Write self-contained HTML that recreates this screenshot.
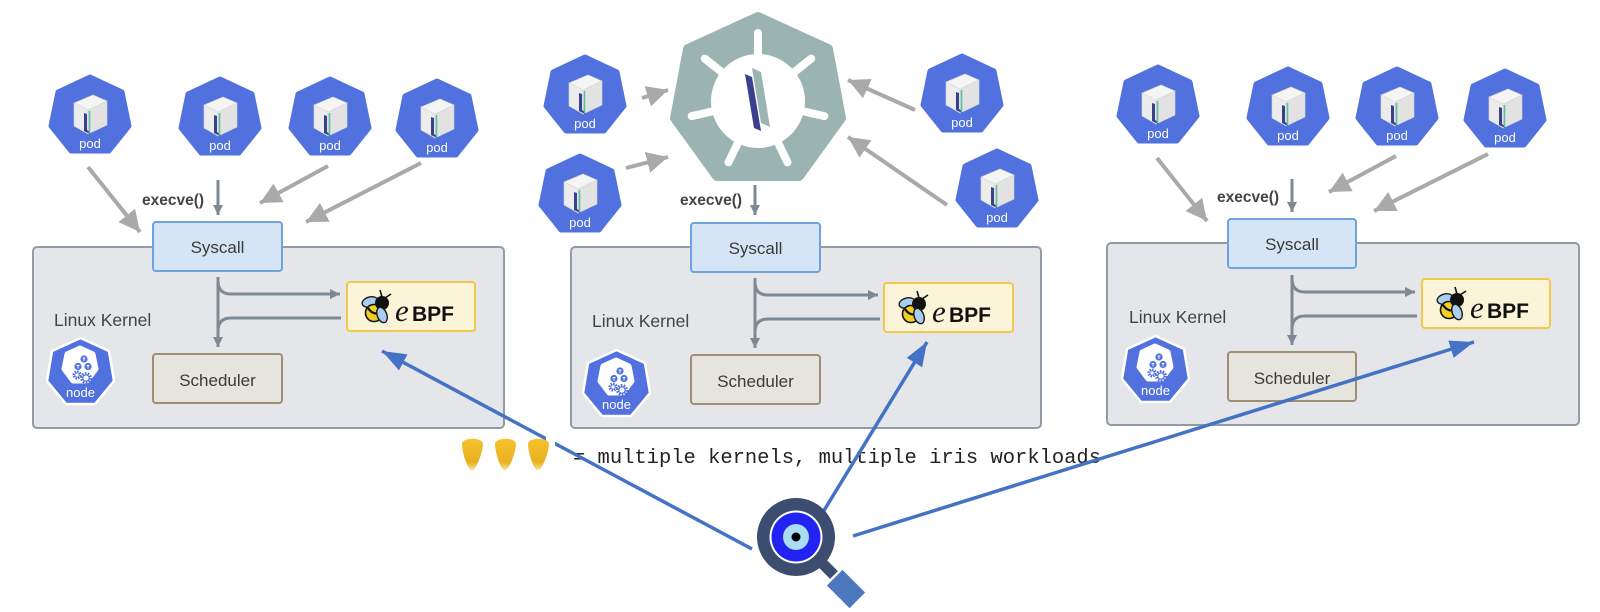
<!DOCTYPE html>
<html>
<head>
<meta charset="utf-8">
<style>
  html,body{margin:0;padding:0;background:#ffffff;}
  svg{display:block;}
  text{font-family:"Liberation Sans","DejaVu Sans",sans-serif;}
</style>
</head>
<body>
<svg width="1600" height="612" viewBox="0 0 1600 612" xmlns="http://www.w3.org/2000/svg">
<defs>
  <marker id="ga" viewBox="0 0 10 10" refX="10" refY="5" markerWidth="5.3" markerHeight="5.3" orient="auto" markerUnits="strokeWidth">
    <path d="M0,0 L10,5 L0,10 z" fill="#a9a9a9"/>
  </marker>
  <marker id="sa" viewBox="0 0 10 10" refX="10" refY="5" markerWidth="3.4" markerHeight="3.4" orient="auto" markerUnits="strokeWidth">
    <path d="M0,0 L10,5 L0,10 z" fill="#7d8995"/>
  </marker>
  <marker id="ba" viewBox="0 0 12 9" refX="12" refY="4.5" markerWidth="6.9" markerHeight="5.2" orient="auto" markerUnits="strokeWidth">
    <path d="M0,0 L12,4.5 L0,9 z" fill="#4472c4"/>
  </marker>
  <linearGradient id="corn" x1="0" y1="0" x2="0" y2="1">
    <stop offset="0" stop-color="#f6c32e"/>
    <stop offset="0.75" stop-color="#e9b020"/>
    <stop offset="1" stop-color="#f8e7a0"/>
  </linearGradient>
  <symbol id="pod" viewBox="0 0 84 82" width="84" height="82">
    <polygon points="42,4 74,19 81,53 61,78 23,78 3,53 10,19" fill="#5171de" stroke="#5171de" stroke-width="5" stroke-linejoin="round"/>
    <polygon points="26,30 45,22 59,28 40,37" fill="#f5f5f5" stroke="#d6d6d6" stroke-width="0.6"/>
    <polygon points="26,30 40,37 40,61 26,53" fill="#ececec" stroke="#d6d6d6" stroke-width="0.6"/>
    <polygon points="40,37 59,28 59,52 40,61" fill="#e2e2e2" stroke="#d6d6d6" stroke-width="0.6"/>
    <polygon points="36,40 39,41 39,57 42,59 42,61 36,58" fill="#3a3f8e"/>
    <line x1="41.5" y1="38" x2="41.5" y2="60" stroke="#5dbf9e" stroke-width="1.6"/>
  </symbol>
  <symbol id="node" viewBox="0 0 71 72" width="71" height="72">
    <polygon points="35.5,3 64,16 69,46 50,69 21,69 2,46 7,16" fill="#5171de" stroke="#ffffff" stroke-width="2.5" stroke-linejoin="round"/>
    <polygon points="35,13 48,19 51,34 42,46 28,46 19,34 22,19" fill="#ffffff" stroke="#ffffff" stroke-width="5" stroke-linejoin="round"/>
    <circle cx="39" cy="24" r="3.6" fill="#5171de"/>
    <circle cx="33" cy="31.5" r="3.6" fill="#5171de"/>
    <circle cx="43" cy="31.5" r="3.6" fill="#5171de"/>
    <path d="M37.6,23 h2.8 M39,23 v3 M31.6,30.5 h2.8 M33,30.5 v3 M41.6,30.5 h2.8 M43,30.5 v3" stroke="#fff" stroke-width="0.9"/>
    <circle cx="32" cy="40" r="3.3" fill="none" stroke="#5171de" stroke-width="2.6" stroke-dasharray="1.4,1.2"/>
    <circle cx="32" cy="40" r="2.2" fill="none" stroke="#5171de" stroke-width="1"/>
    <circle cx="41" cy="43" r="4.6" fill="none" stroke="#5171de" stroke-width="2.8" stroke-dasharray="1.6,1.3"/>
    <circle cx="41" cy="43" r="3.2" fill="none" stroke="#5171de" stroke-width="1.2"/>
  </symbol>
  <symbol id="bee" viewBox="0 0 32 36" width="32" height="36">
    <line x1="21" y1="8" x2="19" y2="1" stroke="#111" stroke-width="1.6"/>
    <line x1="24" y1="9" x2="30" y2="5" stroke="#111" stroke-width="1.6"/>
    <ellipse cx="9" cy="13" rx="8" ry="5" transform="rotate(-15 9 13)" fill="#a9cff0" stroke="#1a1a1a" stroke-width="1.4"/>
    <circle cx="13" cy="24" r="8.5" fill="#f3cf22" stroke="#111" stroke-width="1.6"/>
    <path d="M7,19 Q13,28 21,22" stroke="#111" stroke-width="2.2" fill="none"/>
    <circle cx="21" cy="14" r="7" fill="#111"/>
    <ellipse cx="21" cy="26" rx="4.8" ry="8" transform="rotate(-20 21 26)" fill="#a9cff0" stroke="#1a1a1a" stroke-width="1.4"/>
  </symbol>
</defs>

<!-- ============ PANELS ============ -->
<rect x="33" y="247" width="471" height="181" rx="4" fill="#e4e6ea" stroke="#939ca6" stroke-width="2"/>
<rect x="571" y="247" width="470" height="181" rx="4" fill="#e4e6ea" stroke="#939ca6" stroke-width="2"/>
<rect x="1107" y="243" width="472" height="182" rx="4" fill="#e4e6ea" stroke="#939ca6" stroke-width="2"/>

<!-- Panel 1 boxes -->
<rect x="153" y="222" width="129" height="49" rx="3" fill="#d5e5f6" stroke="#6fa3e0" stroke-width="2"/>
<text x="217.5" y="253" font-size="17" fill="#3a3a3a" text-anchor="middle">Syscall</text>
<rect x="347" y="282" width="128" height="49" rx="3" fill="#fbf4d8" stroke="#f0c94a" stroke-width="2"/>
<use href="#bee" x="361" y="289"/>
<text x="395" y="321" font-size="31" font-style="italic" fill="#111" style="font-family:'Liberation Serif',serif;">e</text>
<text x="412" y="321" font-size="21" font-weight="bold" fill="#111">BPF</text>
<rect x="153" y="354" width="129" height="49" rx="3" fill="#e6e4df" stroke="#a08e72" stroke-width="2"/>
<text x="217.5" y="386" font-size="17" fill="#3a3a3a" text-anchor="middle">Scheduler</text>
<text x="54" y="326" font-size="17.5" fill="#444">Linux Kernel</text>
<use href="#node" x="45" y="335"/>
<text x="80.5" y="397" font-size="13" fill="#fff" text-anchor="middle">node</text>

<!-- Panel 2 boxes -->
<rect x="691" y="223" width="129" height="49" rx="3" fill="#d5e5f6" stroke="#6fa3e0" stroke-width="2"/>
<text x="755.5" y="254" font-size="17" fill="#3a3a3a" text-anchor="middle">Syscall</text>
<rect x="884" y="283" width="129" height="49" rx="3" fill="#fbf4d8" stroke="#f0c94a" stroke-width="2"/>
<use href="#bee" x="898" y="290"/>
<text x="932" y="322" font-size="31" font-style="italic" fill="#111" style="font-family:'Liberation Serif',serif;">e</text>
<text x="949" y="322" font-size="21" font-weight="bold" fill="#111">BPF</text>
<rect x="691" y="355" width="129" height="49" rx="3" fill="#e6e4df" stroke="#a08e72" stroke-width="2"/>
<text x="755.5" y="387" font-size="17" fill="#3a3a3a" text-anchor="middle">Scheduler</text>
<text x="592" y="327" font-size="17.5" fill="#444">Linux Kernel</text>
<use href="#node" x="581" y="347"/>
<text x="616.5" y="409" font-size="13" fill="#fff" text-anchor="middle">node</text>

<!-- Panel 3 boxes -->
<rect x="1228" y="219" width="128" height="49" rx="3" fill="#d5e5f6" stroke="#6fa3e0" stroke-width="2"/>
<text x="1292" y="250" font-size="17" fill="#3a3a3a" text-anchor="middle">Syscall</text>
<rect x="1422" y="279" width="128" height="49" rx="3" fill="#fbf4d8" stroke="#f0c94a" stroke-width="2"/>
<use href="#bee" x="1436" y="286"/>
<text x="1470" y="318" font-size="31" font-style="italic" fill="#111" style="font-family:'Liberation Serif',serif;">e</text>
<text x="1487" y="318" font-size="21" font-weight="bold" fill="#111">BPF</text>
<rect x="1228" y="352" width="128" height="49" rx="3" fill="#e6e4df" stroke="#a08e72" stroke-width="2"/>
<text x="1292" y="384" font-size="17" fill="#3a3a3a" text-anchor="middle">Scheduler</text>
<text x="1129" y="323" font-size="17.5" fill="#444">Linux Kernel</text>
<use href="#node" x="1120" y="333"/>
<text x="1155.5" y="395" font-size="13" fill="#fff" text-anchor="middle">node</text>

<!-- Inner slate arrows -->
<g fill="none" stroke="#7d8995" stroke-width="3">
  <path d="M218,277 L218,347" marker-end="url(#sa)"/>
  <path d="M218,281 Q218,294 231,294 L340,294" marker-end="url(#sa)"/>
  <path d="M341,318 L231,318 Q218,318 218,331"/>
  <path d="M755,278 L755,348" marker-end="url(#sa)"/>
  <path d="M755,282 Q755,295 768,295 L878,295" marker-end="url(#sa)"/>
  <path d="M880,319 L768,319 Q755,319 755,332"/>
  <path d="M1292,275 L1292,345" marker-end="url(#sa)"/>
  <path d="M1292,279 Q1292,292 1305,292 L1415,292" marker-end="url(#sa)"/>
  <path d="M1417,316 L1305,316 Q1292,316 1292,329"/>
  <!-- execve arrows -->
  <path d="M218,180 L218,215" marker-end="url(#sa)"/>
  <path d="M755,185 L755,215" marker-end="url(#sa)"/>
  <path d="M1292,179 L1292,212" marker-end="url(#sa)"/>
</g>
<text x="142" y="205" font-size="15.5" font-weight="bold" fill="#444">execve()</text>
<text x="680" y="205" font-size="15.5" font-weight="bold" fill="#444">execve()</text>
<text x="1217" y="202" font-size="15.5" font-weight="bold" fill="#444">execve()</text>

<!-- Gray pod arrows -->
<g fill="none" stroke="#a9a9a9" stroke-width="4">
  <line x1="88" y1="167" x2="140" y2="232" marker-end="url(#ga)"/>
  <line x1="328" y1="166" x2="260" y2="203" marker-end="url(#ga)"/>
  <line x1="421" y1="163" x2="306" y2="222" marker-end="url(#ga)"/>
  <line x1="642" y1="98" x2="668" y2="90" marker-end="url(#ga)"/>
  <line x1="626" y1="168" x2="668" y2="157" marker-end="url(#ga)"/>
  <line x1="915" y1="110" x2="848" y2="80" marker-end="url(#ga)"/>
  <line x1="947" y1="205" x2="848" y2="137" marker-end="url(#ga)"/>
  <line x1="1157" y1="158" x2="1207" y2="221" marker-end="url(#ga)"/>
  <line x1="1396" y1="156" x2="1329" y2="192" marker-end="url(#ga)"/>
  <line x1="1488" y1="154" x2="1374" y2="211" marker-end="url(#ga)"/>
</g>

<!-- Big central heptagon -->
<polygon points="758,17 828,49 841,118 799,176 717,176 675,118 688,49" fill="#9cb4b1" stroke="#9cb4b1" stroke-width="10" stroke-linejoin="round"/>
<g stroke="#ffffff" stroke-width="8" stroke-linecap="round">
  <line x1="758" y1="101" x2="758" y2="33"/>
  <line x1="758" y1="101" x2="811.2" y2="58.6"/>
  <line x1="758" y1="101" x2="824.3" y2="116.1"/>
  <line x1="758" y1="101" x2="787.5" y2="162.3"/>
  <line x1="758" y1="101" x2="728.5" y2="162.3"/>
  <line x1="758" y1="101" x2="691.7" y2="116.1"/>
  <line x1="758" y1="101" x2="704.8" y2="58.6"/>
</g>
<circle cx="758" cy="101" r="47" fill="#ffffff"/>
<polygon points="752,68 761,72 770,127 761,123" fill="#9cb4b1"/>
<polygon points="745,74 752,77 761,131 754,128" fill="#3a3f8e"/>

<!-- Pods -->
<use href="#pod" x="48" y="73"/><text x="90" y="148" font-size="13" fill="#fff" text-anchor="middle">pod</text>
<use href="#pod" x="178" y="75"/><text x="220" y="150" font-size="13" fill="#fff" text-anchor="middle">pod</text>
<use href="#pod" x="288" y="75"/><text x="330" y="150" font-size="13" fill="#fff" text-anchor="middle">pod</text>
<use href="#pod" x="395" y="77"/><text x="437" y="152" font-size="13" fill="#fff" text-anchor="middle">pod</text>

<use href="#pod" x="543" y="53"/><text x="585" y="128" font-size="13" fill="#fff" text-anchor="middle">pod</text>
<use href="#pod" x="538" y="152"/><text x="580" y="227" font-size="13" fill="#fff" text-anchor="middle">pod</text>
<use href="#pod" x="920" y="52"/><text x="962" y="127" font-size="13" fill="#fff" text-anchor="middle">pod</text>
<use href="#pod" x="955" y="147"/><text x="997" y="222" font-size="13" fill="#fff" text-anchor="middle">pod</text>

<use href="#pod" x="1116" y="63"/><text x="1158" y="138" font-size="13" fill="#fff" text-anchor="middle">pod</text>
<use href="#pod" x="1246" y="65"/><text x="1288" y="140" font-size="13" fill="#fff" text-anchor="middle">pod</text>
<use href="#pod" x="1355" y="65"/><text x="1397" y="140" font-size="13" fill="#fff" text-anchor="middle">pod</text>
<use href="#pod" x="1463" y="67"/><text x="1505" y="142" font-size="13" fill="#fff" text-anchor="middle">pod</text>

<!-- Legend text -->
<text x="573" y="463" font-size="20.4" fill="#222" textLength="528" lengthAdjust="spacingAndGlyphs" style="font-family:'Liberation Mono','DejaVu Sans Mono',monospace;">= multiple kernels, multiple iris workloads</text>

<!-- Blue connector lines (drawn over) -->
<g fill="none" stroke="#4472c4" stroke-width="3.5">
  <line x1="752" y1="549" x2="382" y2="351" marker-end="url(#ba)"/>
  <line x1="820" y1="517" x2="927" y2="342" marker-end="url(#ba)"/>
  <line x1="853" y1="536" x2="1474" y2="342" marker-end="url(#ba)"/>
</g>
<rect x="546" y="432" width="9" height="16" fill="#ffffff"/>

<!-- Corn kernels -->
<g fill="url(#corn)">
  <path transform="translate(461,438)" d="M1,6 C1,-1 22,-1 22,6 C22,13 17,26 14,30 C12,33 10,33 8,30 C5,26 1,13 1,6 Z"/>
  <path transform="translate(494,438)" d="M1,6 C1,-1 22,-1 22,6 C22,13 17,26 14,30 C12,33 10,33 8,30 C5,26 1,13 1,6 Z"/>
  <path transform="translate(527,438)" d="M1,6 C1,-1 22,-1 22,6 C22,13 17,26 14,30 C12,33 10,33 8,30 C5,26 1,13 1,6 Z"/>
</g>

<!-- Magnifier -->
<line x1="818" y1="559" x2="834" y2="575" stroke="#3d4d70" stroke-width="11"/>
<rect x="835" y="573" width="22" height="32" fill="#4d78bd" transform="rotate(-45 846 589)"/>
<circle cx="796" cy="537" r="39" fill="#3d4d70"/>
<circle cx="796" cy="537" r="26.5" fill="#ffffff"/>
<circle cx="796" cy="537" r="24.5" fill="#2222f2"/>
<circle cx="796" cy="537" r="13" fill="#a9dcf5"/>
<circle cx="796" cy="537" r="4.5" fill="#000000"/>
</svg>
</body>
</html>
